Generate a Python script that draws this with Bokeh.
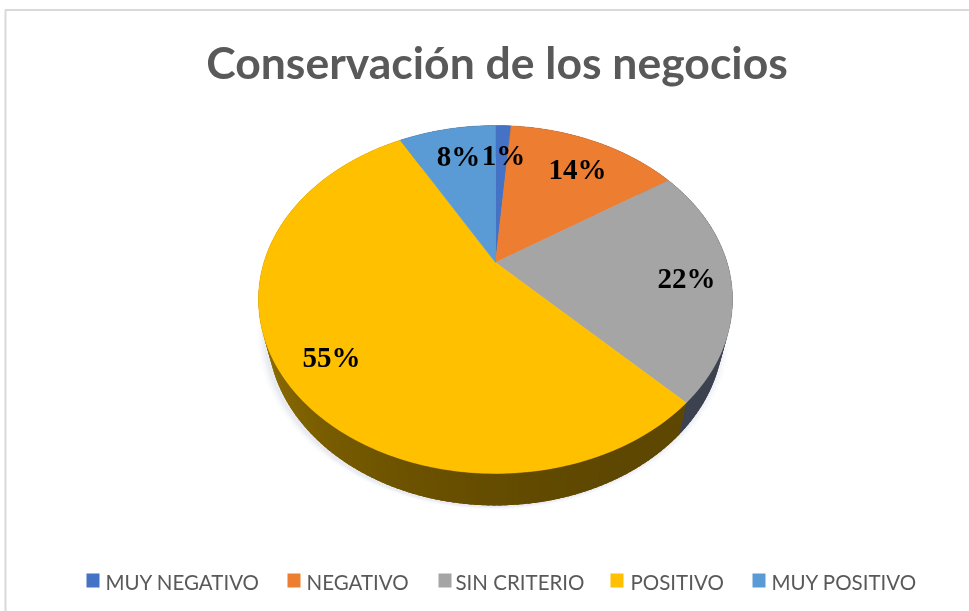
import math
from bokeh.plotting import figure
from bokeh.models import ColumnDataSource, Range1d
from bokeh.core.properties import value
from bokeh.embed import file_html
from bokeh.resources import INLINE

title_text = "Conservación de los negocios"
categories = ["MUY NEGATIVO", "NEGATIVO", "SIN CRITERIO", "POSITIVO", "MUY POSITIVO"]
shares = [1.3, 14.4, 22.0, 54.2, 8.1]
pct_labels = ["1%", "14%", "22%", "55%", "8%"]
colors = ["#4472C4", "#ED7D31", "#A5A5A5", "#FFC000", "#5B9BD5"]

# layout
W, H = 969, 611
X0, Y0 = 495.0, 262.0
A, B, K = 231.6, 166.1, 0.2126
DEPTH = 32.0
WALL_SCALE = 0.962
LABEL_DY = -1.5
label_turns = [0.0086, 0.0906, 0.2695, 0.641, 0.9606]
label_radii = [0.739, 0.745, 0.813, 0.814, 0.753]
legend_swatch_x = [86, 287, 438, 610, 752]
legend_text_x = [105, 306, 455, 630, 771]


def project(turn, r=1.0):
    t = 2 * math.pi * turn
    u, v = r * math.sin(t), r * math.cos(t)
    w = 1 + K * v
    return X0 + A * u / w, Y0 - B * v / w


def lower(pt):
    return X0 + (pt[0] - X0) * WALL_SCALE, pt[1] + DEPTH


def lerp(c1, c2, f):
    return "#%02x%02x%02x" % tuple(round(a + (b - a) * f) for a, b in zip(c1, c2))


p = figure(width=W, height=H, x_range=Range1d(0, W), y_range=Range1d(H, 0),
           output_backend="svg", toolbar_location=None, min_border=0)
p.axis.visible = False
p.grid.visible = False
p.outline_line_color = None
p.background_fill_color = "white"
p.border_fill_color = "white"
p.styles = {"position": "fixed", "left": "0px", "top": "0px"}

# frame
p.line([5, 5, W], [H, 9.5, 9.5], line_color="#d9d9d9", line_width=2)

# cumulative boundaries
total = sum(shares)
edges = [0.0]
for s in shares:
    edges.append(edges[-1] + s / total)

# soft shadow
rim = [lower(project(i / 240)) for i in range(240)]
for grow, alpha in [(8, 0.03), (6, 0.04), (4, 0.05), (2, 0.06)]:
    p.patch([X0 + (x - X0) * (1 + grow / 240) - 2 for x, y in rim],
            [y + grow * 0.35 + 1 for x, y in rim],
            fill_color="#8890b0", fill_alpha=alpha, line_color=None)

# side wall strips, each overlapping the next so no seams show
side_xs, side_ys, side_cols = [], [], []
STEPS = 300
for i in range(STEPS):
    a, b = i / STEPS, min(1.0, (i + 2.5) / STEPS)
    mid = (i + 0.5) / STEPS
    idx = next((j for j in range(len(shares)) if edges[j] <= mid < edges[j + 1]), len(shares) - 1)
    if idx == 2:
        col = "#3d4250"
    elif idx == 3:
        f = min(1, max(0, (mid - 0.42) / (0.76 - 0.42)))
        col = lerp((0x5e, 0x47, 0x00), (0xa8, 0x82, 0x00), f ** 1.7)
    else:
        col = "#606060"
    pa, pb = project(a), project(b)
    la, lb = lower(pa), lower(pb)
    side_xs.append([pa[0], pb[0], lb[0], la[0]])
    side_ys.append([pa[1], pb[1], lb[1], la[1]])
    side_cols.append(col)
p.patches(side_xs, side_ys, fill_color=side_cols, line_color=None)

# top face wedges
face_xs, face_ys = [], []
for j in range(len(shares)):
    n = max(4, int((edges[j + 1] - edges[j]) * 300))
    pts = [project(edges[j] + (edges[j + 1] - edges[j]) * i / n) for i in range(n + 1)]
    face_xs.append([X0] + [q[0] for q in pts])
    face_ys.append([Y0] + [q[1] for q in pts])
p.patches(face_xs, face_ys, fill_color=colors, line_color=colors, line_width=0.5)

# percentage labels
lab = [project(t, r) for t, r in zip(label_turns, label_radii)]
p.text([q[0] for q in lab], [q[1] + LABEL_DY for q in lab], text=pct_labels,
       text_font=value("Liberation Serif"), text_font_style="bold", text_font_size="29px",
       text_color="black", text_align="center", text_baseline="middle")

# title
p.text([496.5], [61], text=[title_text], text_font=value("Lato"), text_font_style="bold",
       text_font_size="44.5px", text_color="#595959", text_align="center", text_baseline="middle")

# legend
src = ColumnDataSource(dict(x=[x + 6.5 for x in legend_swatch_x], y=[580] * 5, c=colors))
p.rect("x", "y", width=13, height=14, fill_color="c", line_color=None, source=src)
p.text(legend_text_x, [581] * 5, text=categories, text_font=value("Lato"), text_font_size="20.5px",
       text_color="#595959", text_align="left", text_baseline="middle")

open("out.html", "w").write(file_html(p, INLINE))
